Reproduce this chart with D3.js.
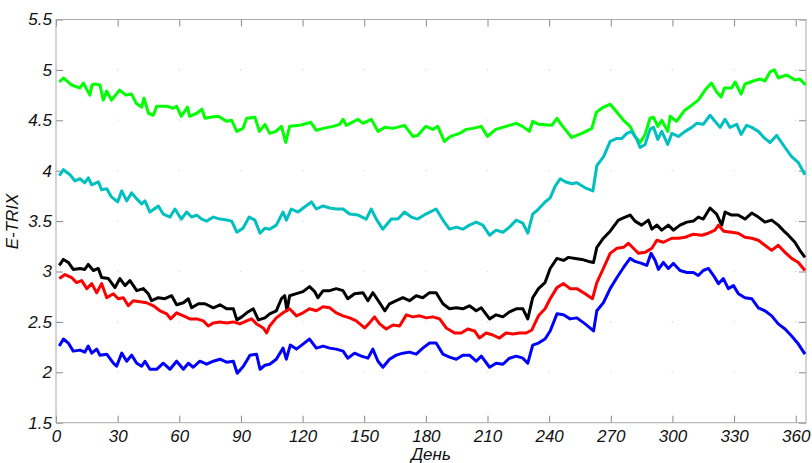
<!DOCTYPE html>
<html>
<head>
<meta charset="utf-8">
<script src="https://cdn.jsdelivr.net/npm/d3@7"></script>
<style>
  body { margin: 0; background: #fff; }
  .axis text { font-family: "Liberation Sans", Arial, sans-serif; font-style: italic; font-size: 17px; fill: #111; }
  .axis line { stroke: #888; }
  .axis path { display: none; }
  .lab { font-family: "Liberation Sans", Arial, sans-serif; font-style: italic; font-size: 17px; fill: #111; }
</style>
</head>
<body>
<svg id="chart" width="812" height="463"></svg>
<script>
// day of year, E-TRIX value
const green = [[1.6,4.88],[3.6,4.92],[7.6,4.85],[11.7,4.82],[13.3,4.87],[16.5,4.75],[17.5,4.85],[19,4.86],[21.4,4.85],[23,4.70],[24.7,4.79],[27,4.70],[31,4.80],[34,4.75],[36.8,4.76],[39,4.67],[41.7,4.63],[42.8,4.72],[45,4.57],[47.4,4.55],[49,4.64],[53.9,4.64],[57,4.62],[58.7,4.64],[61,4.54],[64,4.63],[65,4.54],[68.5,4.57],[71,4.61],[72.5,4.52],[75,4.53],[79,4.54],[83,4.49],[85.5,4.50],[88,4.39],[91,4.42],[92.8,4.52],[96.8,4.53],[99,4.39],[101.7,4.46],[104,4.37],[107,4.39],[109.7,4.44],[111.8,4.28],[113.7,4.44],[118.6,4.45],[124,4.48],[126.7,4.40],[130,4.42],[134.8,4.44],[138,4.46],[139.7,4.51],[141.3,4.45],[147,4.51],[149.4,4.47],[153.4,4.51],[156.7,4.39],[160,4.43],[164,4.42],[169.6,4.45],[173.7,4.34],[176,4.35],[180,4.44],[183.4,4.41],[185.8,4.44],[189,4.29],[192,4.34],[196.4,4.37],[199.6,4.41],[202.9,4.42],[207,4.44],[210,4.34],[214,4.41],[219,4.44],[224,4.47],[227,4.44],[230.4,4.39],[232,4.49],[235,4.46],[241.3,4.45],[243.8,4.52],[246.2,4.45],[251,4.33],[255.9,4.37],[260.8,4.42],[263,4.58],[265.6,4.62],[269.7,4.66],[273,4.58],[276.2,4.50],[279.4,4.44],[281.8,4.34],[284.3,4.28],[286.7,4.36],[289.1,4.52],[290.8,4.53],[292.9,4.44],[294.8,4.50],[297.7,4.39],[298.9,4.54],[302,4.49],[306,4.60],[309.4,4.65],[312.6,4.70],[315.9,4.80],[319,4.87],[321.5,4.78],[323.7,4.73],[325.3,4.82],[328.8,4.82],[330.5,4.88],[333.4,4.76],[335.3,4.86],[339.4,4.89],[342.6,4.91],[345,4.89],[347.5,4.98],[349.6,5.00],[351.5,4.92],[355.6,4.95],[359.6,4.90],[362,4.91],[364.8,4.85]]

const cyan = [[1.6,3.95],[3.6,4.01],[6.8,3.96],[9.2,3.90],[11.7,3.92],[14,3.88],[15.7,3.93],[17.4,3.86],[20.6,3.89],[22.2,3.81],[24.7,3.82],[27,3.74],[30,3.69],[32,3.80],[34.4,3.70],[36.8,3.78],[39.3,3.72],[41.7,3.67],[43.3,3.70],[45.7,3.59],[49.8,3.65],[52.2,3.57],[55.5,3.54],[57.9,3.62],[61,3.52],[63.6,3.59],[66,3.54],[68.5,3.56],[70.9,3.52],[73.3,3.50],[76.6,3.54],[79.8,3.52],[83,3.51],[85.5,3.50],[88,3.39],[91,3.43],[94,3.54],[96.8,3.51],[99.3,3.38],[101.7,3.43],[104,3.42],[107.2,3.46],[110.5,3.59],[112.1,3.51],[114.5,3.62],[117.8,3.59],[121,3.64],[124.3,3.69],[126.7,3.62],[130,3.65],[133.2,3.63],[136.4,3.62],[139.7,3.62],[142.9,3.57],[147,3.56],[151,3.52],[153.4,3.62],[155.9,3.52],[159,3.42],[163.2,3.52],[166.4,3.52],[169.6,3.59],[172.9,3.54],[176,3.52],[180,3.57],[185,3.62],[188.3,3.51],[191.5,3.42],[194.8,3.44],[198,3.42],[201.2,3.46],[204.5,3.49],[207.7,3.46],[211,3.36],[214.2,3.41],[217.5,3.39],[220.7,3.44],[224,3.51],[227.2,3.48],[229.6,3.38],[232,3.57],[234.8,3.62],[238,3.69],[240.5,3.73],[243,3.85],[245.4,3.92],[247.8,3.89],[251,3.87],[253.5,3.88],[257.5,3.83],[261.3,3.80],[263.2,4.05],[266.5,4.14],[269.7,4.29],[273,4.32],[275.4,4.32],[277.8,4.37],[280.2,4.39],[282.7,4.31],[284.3,4.23],[286.7,4.26],[289.1,4.41],[290.8,4.43],[292.9,4.31],[294.8,4.39],[297.7,4.26],[299.7,4.37],[302.9,4.34],[306.2,4.39],[309.4,4.43],[311.8,4.47],[315,4.46],[318.3,4.55],[320.7,4.49],[323.2,4.43],[325.6,4.51],[328,4.43],[331.3,4.46],[333.4,4.36],[336.1,4.45],[338.6,4.43],[341.8,4.39],[345,4.32],[347.5,4.28],[350.7,4.35],[354.8,4.23],[358,4.14],[361.3,4.08],[364.5,3.96]]

const black = [[1.6,3.06],[3.6,3.12],[6,3.09],[8.4,3.02],[11.7,3.03],[14,3.02],[15.7,3.07],[18.2,3.01],[20.6,3.03],[22.2,2.94],[25.5,2.93],[28.7,2.84],[31.1,2.93],[33.6,2.86],[36,2.91],[39.3,2.81],[42.5,2.83],[44.9,2.78],[46.5,2.71],[49.8,2.74],[53,2.73],[56.3,2.76],[58.7,2.67],[62,2.69],[64.4,2.73],[66,2.64],[69.3,2.68],[72.5,2.68],[76.6,2.64],[79.8,2.67],[83,2.63],[86.3,2.63],[88,2.52],[90.4,2.55],[92.8,2.59],[96,2.63],[98.5,2.52],[101.7,2.54],[104,2.58],[107.2,2.61],[109.7,2.73],[111.3,2.76],[112.4,2.61],[113.7,2.76],[117,2.78],[120.2,2.80],[123.4,2.85],[125.9,2.80],[127.5,2.74],[130,2.81],[133.2,2.81],[136.4,2.83],[139.7,2.81],[142,2.73],[145.3,2.78],[149.4,2.79],[151.8,2.71],[154.2,2.79],[157.5,2.69],[160,2.61],[162.3,2.68],[165.6,2.71],[168.8,2.74],[172,2.71],[175.3,2.76],[178.5,2.74],[181.8,2.79],[185,2.79],[188.3,2.68],[191.5,2.63],[194.8,2.64],[198,2.63],[201.2,2.66],[204.5,2.61],[207,2.64],[211,2.53],[214.2,2.57],[217.5,2.55],[220.7,2.60],[224,2.63],[227.2,2.63],[229.6,2.53],[232,2.74],[234.8,2.83],[238,2.89],[240.5,3.03],[243.8,3.13],[247,3.11],[249.4,3.14],[252.7,3.13],[255.9,3.12],[259.2,3.10],[261.6,3.09],[263.2,3.24],[266.4,3.33],[269.7,3.40],[273.7,3.51],[277,3.54],[279.4,3.56],[281.8,3.50],[285,3.46],[288.3,3.51],[290,3.42],[292.4,3.46],[294.8,3.41],[298,3.46],[300.5,3.41],[303.7,3.46],[307,3.49],[310.2,3.50],[312.6,3.54],[315,3.52],[318.3,3.63],[321.5,3.57],[324,3.46],[325.6,3.59],[328.8,3.56],[332,3.56],[335.3,3.52],[338.6,3.58],[341.8,3.54],[345,3.49],[348.3,3.51],[351.5,3.46],[354.8,3.39],[356.4,3.36],[359.6,3.29],[362,3.21],[364.5,3.14]]

const red = [[1.6,2.93],[4.4,2.97],[7.6,2.94],[10,2.89],[12.5,2.91],[15,2.83],[17.4,2.88],[19.8,2.79],[22.2,2.88],[24.7,2.74],[27.9,2.78],[30.3,2.73],[32.8,2.74],[35.2,2.66],[37.6,2.71],[40.9,2.70],[44.1,2.69],[47.4,2.66],[50.6,2.61],[53.9,2.58],[55.8,2.53],[58.7,2.59],[62,2.56],[65.2,2.53],[68.5,2.53],[71.7,2.51],[74.1,2.46],[76.6,2.49],[79.8,2.50],[83,2.49],[86.3,2.50],[89.5,2.48],[92.8,2.51],[95.2,2.53],[97.6,2.48],[100.9,2.44],[102.5,2.39],[104,2.46],[107.2,2.54],[110.5,2.59],[113.7,2.63],[117,2.56],[120.2,2.59],[123.4,2.63],[126.7,2.61],[130,2.65],[133.2,2.64],[136.4,2.59],[139.7,2.56],[142.9,2.54],[146.1,2.51],[150.2,2.44],[152.6,2.49],[155,2.55],[157.5,2.48],[160.7,2.43],[164,2.47],[167.2,2.46],[170.5,2.57],[173.7,2.55],[177,2.56],[180.2,2.54],[183.4,2.55],[186.7,2.53],[189.9,2.44],[194,2.39],[197.2,2.39],[200.4,2.43],[203.7,2.41],[206.1,2.34],[209.3,2.39],[212.6,2.37],[215.8,2.34],[219,2.39],[222.3,2.38],[225.6,2.39],[228.8,2.39],[231.6,2.42],[234.8,2.56],[238,2.63],[240.5,2.73],[243.8,2.84],[247,2.88],[250.2,2.83],[253.5,2.83],[257.5,2.78],[261.1,2.73],[263.2,2.89],[266.4,3.03],[269.7,3.18],[273,3.23],[276.2,3.24],[278.6,3.28],[281,3.23],[283.5,3.18],[286.7,3.19],[290,3.23],[292.4,3.31],[295.6,3.29],[299.7,3.33],[302.9,3.33],[306.2,3.34],[310.2,3.37],[314.3,3.36],[317.5,3.38],[320.7,3.41],[322.4,3.46],[325,3.40],[328.8,3.39],[332,3.38],[335.3,3.34],[338.6,3.33],[341.8,3.31],[345,3.26],[348.3,3.21],[351.5,3.26],[354.8,3.19],[358,3.13],[361.3,3.09],[364.5,3.01]]

const blue = [[1.6,2.26],[3.6,2.33],[6,2.29],[8.4,2.21],[11.7,2.22],[14,2.20],[15.7,2.26],[17.4,2.19],[19.8,2.23],[21.4,2.17],[24.7,2.18],[27.9,2.09],[29.5,2.06],[32,2.19],[34.4,2.11],[36.8,2.17],[39.3,2.09],[41.7,2.06],[43.3,2.11],[45.7,2.03],[49,2.03],[52.2,2.09],[55.5,2.03],[58.7,2.11],[62,2.03],[64.4,2.09],[66.8,2.05],[70,2.11],[73.3,2.08],[76.6,2.11],[79.8,2.13],[83,2.10],[86.3,2.11],[88.2,1.99],[91.2,2.06],[94.4,2.17],[97.6,2.18],[99.3,2.03],[101.7,2.07],[104,2.08],[107.2,2.13],[110.5,2.24],[112.1,2.13],[114,2.27],[117,2.23],[120.2,2.28],[123.4,2.33],[126.7,2.24],[130,2.26],[133.2,2.24],[136.4,2.23],[139.7,2.21],[142,2.14],[145.3,2.19],[148.6,2.16],[151.8,2.14],[154.2,2.23],[156.7,2.11],[159.1,2.05],[162.3,2.13],[165.6,2.17],[168.8,2.19],[172,2.20],[175.3,2.18],[178.5,2.24],[181.8,2.29],[185,2.29],[188.3,2.18],[191.5,2.15],[194.8,2.13],[198,2.17],[201.2,2.17],[204.5,2.11],[207,2.16],[211,2.05],[214.2,2.09],[217.5,2.08],[220.7,2.14],[224,2.16],[227.2,2.14],[229.6,2.09],[232,2.27],[234.8,2.29],[238,2.33],[240.5,2.41],[243.8,2.58],[247,2.57],[250.2,2.53],[253.5,2.54],[257.5,2.48],[261.6,2.41],[263.2,2.61],[266.4,2.69],[269.7,2.83],[273,2.94],[276.2,3.04],[279.4,3.13],[281.8,3.10],[285,3.08],[287.5,3.06],[289.6,3.18],[291.6,3.11],[293.2,3.02],[295.6,3.09],[298,3.03],[300.5,3.08],[303.7,3.01],[307,2.99],[310.2,2.99],[312.6,2.96],[315,3.01],[317.5,3.03],[320,2.96],[322.4,2.88],[324.8,2.93],[327.2,2.83],[329.7,2.86],[332.1,2.78],[335.3,2.74],[338.6,2.73],[341.8,2.64],[345,2.61],[348.3,2.56],[351.5,2.48],[354.8,2.43],[358,2.36],[361.3,2.28],[364.5,2.18]]

const xTicks = [0, 30, 60, 90, 120, 150, 180, 210, 240, 270, 300, 330, 360]
const yTicks = [1.5, 2, 2.5, 3, 3.5, 4, 4.5, 5, 5.5]
const seriesList = [
    { name: 'green', data: green, color: '#00ff00' },
    { name: 'cyan', data: cyan, color: '#00bfbf' },
    { name: 'black', data: black, color: '#000000' },
    { name: 'red', data: red, color: '#ff0000' },
    { name: 'blue', data: blue, color: '#0000ff' }
]

const margin = { top: 19.5, right: 6, bottom: 40.3, left: 56 }
const svg = d3.select('#chart')
const width = +svg.attr('width') - margin.left - margin.right
const height = +svg.attr('height') - margin.top - margin.bottom
const g = svg.append('g')
    .attr('transform', `translate(${margin.left}, ${margin.top})`)

const x = d3.scaleLinear().domain([0, 365]).range([0, width])
const y = d3.scaleLinear().domain([1.5, 5.5]).range([height, 0])

// faint grid dots at tick crossings
const gridPts = []
xTicks.slice(1).forEach(tx => yTicks.slice(1, -1).forEach(ty => gridPts.push([tx, ty])))
g.append('g').selectAll('circle')
    .data(gridPts)
    .join('circle')
    .attr('cx', d => x(d[0]))
    .attr('cy', d => y(d[1]))
    .attr('r', 0.8)
    .attr('fill', '#ddd')

// axes, ticks pointing inward
g.append('g').attr('class', 'axis')
    .attr('transform', `translate(0, ${height})`)
    .call(d3.axisBottom(x).tickValues(xTicks).tickSizeInner(-7).tickSizeOuter(0).tickPadding(7))
g.append('g').attr('class', 'axis')
    .call(d3.axisLeft(y).tickValues(yTicks).tickSizeInner(-7).tickSizeOuter(0).tickPadding(4)
        .tickFormat(d3.format('')))
g.append('g').attr('class', 'axis')
    .call(d3.axisTop(x).tickValues(xTicks).tickSizeInner(-7).tickSizeOuter(0).tickFormat(''))
g.append('g').attr('class', 'axis')
    .attr('transform', `translate(${width}, 0)`)
    .call(d3.axisRight(y).tickValues(yTicks).tickSizeInner(-7).tickSizeOuter(0).tickFormat(''))

g.append('rect')
    .attr('width', width)
    .attr('height', height)
    .attr('fill', 'none')
    .attr('stroke', '#aaa')
    .attr('stroke-width', 1)

const line = d3.line()
    .x(d => x(d[0]))
    .y(d => y(d[1]))

g.append('g').selectAll('path')
    .data(seriesList)
    .join('path')
    .attr('class', d => d.name + '-path')
    .attr('fill', 'none')
    .attr('stroke', d => d.color)
    .attr('stroke-width', 3)
    .attr('stroke-linejoin', 'round')
    .attr('d', d => line(d.data))

svg.append('text')
    .attr('class', 'lab')
    .attr('x', margin.left + width / 2)
    .attr('y', 460)
    .attr('text-anchor', 'middle')
    .text('День')
svg.append('text')
    .attr('class', 'lab')
    .attr('transform', `translate(18, ${margin.top + 202}) rotate(-90)`)
    .attr('text-anchor', 'middle')
    .text('E-TRIX')
</script>
</body>
</html>
